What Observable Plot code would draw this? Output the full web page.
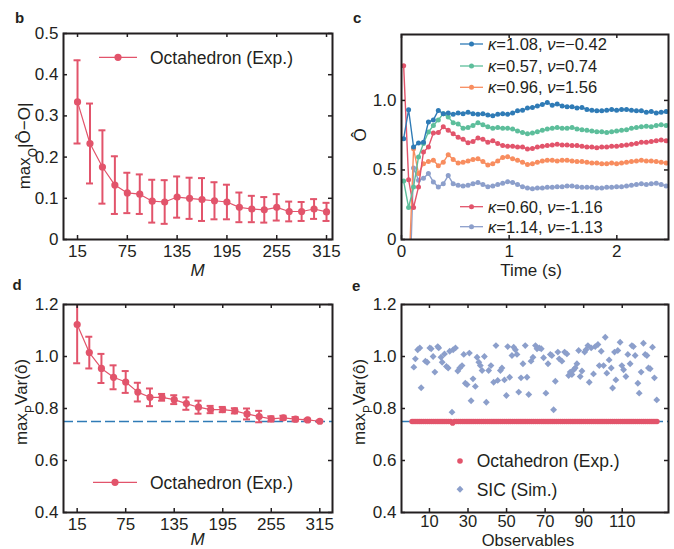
<!DOCTYPE html>
<html>
<head>
<meta charset="utf-8">
<script src="https://cdn.jsdelivr.net/npm/d3@7"></script>
<script src="https://cdn.jsdelivr.net/npm/@observablehq/plot@0.6"></script>
<style>
html,body{margin:0;padding:0;background:#fff;}
#fig{position:relative;width:674px;height:549px;overflow:hidden;background:#fff;}
#fig svg{position:absolute;overflow:visible;}
</style>
</head>
<body>
<div id="fig"></div>
<script>
// ---------- Panel b / d : versus number of measurements M ----------
const mVals = [15,30,45,60,75,90,105,120,135,150,165,180,195,210,225,240,255,270,285,300,315];
const devMean = [0.334,0.233,0.176,0.132,0.113,0.110,0.093,0.091,0.103,0.100,0.097,0.094,0.091,0.078,0.074,0.072,0.078,0.068,0.068,0.074,0.067];
const devErr  = [0.101,0.097,0.089,0.070,0.049,0.048,0.052,0.053,0.050,0.050,0.052,0.045,0.042,0.036,0.032,0.031,0.032,0.024,0.023,0.024,0.022];
const varMean = [1.123,1.015,0.954,0.920,0.902,0.863,0.843,0.843,0.834,0.819,0.805,0.796,0.796,0.791,0.779,0.769,0.760,0.764,0.759,0.756,0.751];
const varErr  = [0.149,0.061,0.056,0.046,0.042,0.036,0.034,0.013,0.017,0.024,0.025,0.014,0.010,0.010,0.021,0.022,0.010,0.008,0.008,0.004,0.003];
const mTicks = [15,75,135,195,255,315];
const devTicks = [0,0.1,0.2,0.3,0.4,0.5];
const varTicks = [0.4,0.6,0.8,1.0,1.2];
const boundVar = [0.75];

// ---------- Panel c : time series ----------
const timeS = [0.02,0.066,0.112,0.158,0.204,0.25,0.296,0.342,0.388,0.434,
  0.48,0.526,0.572,0.618,0.664,0.71,0.756,0.802,0.848,0.894,
  0.94,0.986,1.032,1.078,1.124,1.17,1.216,1.262,1.308,1.354,
  1.4,1.446,1.492,1.538,1.584,1.63,1.676,1.722,1.768,1.814,
  1.86,1.906,1.952,1.998,2.044,2.09,2.136,2.182,2.228,2.274,
  2.32,2.366,2.412,2.458];
const serK108 = [0.725,0.933,0.665,0.694,0.70,0.845,0.86,0.928,0.904,0.909,
  0.90,0.91,0.905,0.915,0.905,0.90,0.905,0.895,0.89,0.90,
  0.905,0.90,0.91,0.925,0.93,0.945,0.95,0.96,0.97,0.985,
  0.965,0.975,0.96,0.955,0.955,0.945,0.95,0.935,0.93,0.925,
  0.925,0.93,0.935,0.93,0.935,0.935,0.93,0.925,0.925,0.915,
  0.92,0.91,0.915,0.92];
const serK057 = [0.42,0.23,0.378,0.593,0.69,0.773,0.82,0.86,0.905,0.88,
  0.84,0.83,0.80,0.805,0.82,0.84,0.825,0.81,0.80,0.805,
  0.80,0.80,0.795,0.78,0.77,0.76,0.765,0.775,0.785,0.795,
  0.80,0.805,0.80,0.80,0.805,0.795,0.79,0.785,0.78,0.775,
  0.775,0.77,0.775,0.78,0.785,0.79,0.80,0.805,0.81,0.815,
  0.81,0.82,0.825,0.82];
const serK096 = [-1.2,-0.3,0.653,0.474,0.545,0.56,0.57,0.53,0.555,0.61,
  0.575,0.55,0.555,0.565,0.575,0.58,0.56,0.535,0.545,0.565,
  0.59,0.595,0.58,0.57,0.555,0.54,0.545,0.555,0.565,0.57,
  0.57,0.565,0.57,0.57,0.565,0.56,0.56,0.555,0.55,0.55,
  0.545,0.545,0.55,0.545,0.55,0.555,0.56,0.565,0.57,0.565,
  0.565,0.56,0.555,0.55];
const serK060 = [1.25,0.43,0.23,0.378,0.63,0.665,0.765,0.77,0.81,0.785,
  0.76,0.735,0.72,0.695,0.705,0.73,0.72,0.70,0.71,0.69,
  0.675,0.67,0.67,0.665,0.665,0.65,0.655,0.665,0.67,0.675,
  0.68,0.685,0.68,0.68,0.675,0.675,0.67,0.665,0.665,0.66,
  0.665,0.665,0.67,0.67,0.675,0.68,0.685,0.69,0.70,0.70,
  0.705,0.71,0.715,0.71];
const serK114 = [-1.5,-0.6,0.515,0.426,0.44,0.474,0.414,0.378,0.40,0.46,
  0.40,0.39,0.385,0.39,0.40,0.41,0.395,0.38,0.385,0.395,
  0.405,0.415,0.41,0.395,0.38,0.37,0.365,0.37,0.37,0.375,
  0.375,0.38,0.38,0.385,0.385,0.38,0.375,0.375,0.375,0.37,
  0.37,0.375,0.375,0.38,0.38,0.385,0.39,0.395,0.40,0.395,
  0.40,0.405,0.395,0.385];
const timeTicks = [0,1,2];
const estTicks = [0,0.5,1.0];

// ---------- Panel e : per observable ----------
const octaVals = [
  0.75,0.75,0.75,0.75,0.75,0.75,0.75,0.75,0.75,0.75,0.75,0.75,0.75,0.75,0.75,0.75,
  0.75,0.75,0.75,0.75,0.75,0.744,0.75,0.75,0.75,0.75,0.75,0.75,0.75,0.75,0.75,0.75,
  0.75,0.75,0.75,0.75,0.75,0.75,0.75,0.75,0.75,0.75,0.75,0.75,0.75,0.75,0.75,0.75,
  0.75,0.75,0.75,0.75,0.75,0.75,0.75,0.75,0.75,0.75,0.75,0.75,0.75,0.75,0.75,0.75,
  0.75,0.75,0.75,0.75,0.75,0.75,0.75,0.75,0.75,0.75,0.75,0.75,0.75,0.75,0.75,0.75,
  0.75,0.75,0.75,0.75,0.75,0.75,0.75,0.75,0.75,0.75,0.75,0.75,0.75,0.75,0.75,0.75,
  0.75,0.75,0.75,0.75,0.75,0.75,0.75,0.75,0.75,0.75,0.75,0.75,0.75,0.75,0.75,0.75,
  0.75,0.75,0.75,0.75,0.75,0.75,0.75,0.75,0.75,0.75,0.75,0.75,0.75,0.75,0.75,0.75];
const sicObs = [1.9,2.7,3.9,5.0,5.7,7.9,8.8,10.2,10.9,11.9,12.8,14.3,14.8,16.0,16.6,17.8,18.8,19.7,20.5,21.7,
  22.3,23.5,24.7,25.7,26.9,27.8,28.6,29.5,30.7,31.6,32.6,33.8,34.7,35.6,36.4,37.3,38.5,39.5,40.7,41.9,
  43.3,44.5,45.4,46.8,47.6,48.9,49.9,50.6,51.6,52.8,53.7,54.6,55.4,56.3,57.5,58.5,59.7,60.6,61.5,62.7,
  63.7,65.0,65.8,67.0,68.0,69.2,70.4,71.5,72.7,73.5,74.4,75.3,76.6,77.3,78.7,80.1,81.3,82.2,83.0,83.9,
  84.8,85.6,86.5,87.4,88.2,89.1,90.5,91.2,92.2,92.9,93.9,95.1,96.0,97.4,98.1,99.1,100.3,101.2,102.0,103.2,
  104.3,105.0,106.0,106.7,107.7,108.9,109.8,110.7,111.9,112.9,114.1,115.0,115.8,116.7,118.1,118.8,119.8,121.0,121.9,122.8,
  123.6,124.5,125.7,126.7,127.9];
const sicVals = [0.959,0.991,1.026,1.033,0.88,0.982,0.978,1.033,1.03,1.0,0.94,1.038,1.033,0.997,0.978,1.01,0.962,0.956,1.02,0.786,
  1.026,1.033,0.944,0.956,0.965,1.008,0.897,0.892,1.013,0.83,0.914,0.885,0.997,0.978,0.965,0.946,1.0,0.824,0.946,0.965,
  0.901,1.042,0.908,0.946,0.956,0.91,0.85,1.038,0.92,1.004,1.036,1.026,1.008,0.863,0.918,0.972,1.042,0.92,0.854,0.982,
  0.997,1.042,1.03,1.033,1.03,0.995,0.859,0.972,1.008,1.004,0.795,0.905,1.017,0.991,0.982,1.017,1.01,0.927,0.94,0.931,
  0.949,0.956,0.972,1.023,0.923,0.944,1.017,1.026,1.042,0.901,1.033,0.933,1.038,1.046,0.965,1.02,0.965,1.074,0.936,0.987,
  0.956,0.879,1.017,0.91,1.023,1.055,0.965,0.949,0.923,1.008,0.972,1.042,1.038,1.004,0.897,0.859,0.94,1.051,1.008,1.004,
  0.956,0.953,1.036,0.918,0.833];
const obsTicks = [10,30,50,70,90,110];

// ---------- styling ----------
const FONT = "'Liberation Sans', Arial, Helvetica, sans-serif";
const INK = "#231f20";
const RED = "#e2546b";
const BLUE = "#2f7bb6";
const GREEN = "#5dbe9b";
const ORANGE = "#f88d5f";
const LAV = "#8c9fcb";

function inTicks(xt, yt, xd, yd, len = 4) {
  const s = {stroke: INK, strokeWidth: 1.5};
  return [
    Plot.ruleX(xt, {x: d => d, y1: () => yd[0], y2: () => yd[0], insetBottom: len, ...s}),
    Plot.ruleX(xt, {x: d => d, y1: () => yd[1], y2: () => yd[1], insetTop: len, ...s}),
    Plot.ruleY(yt, {y: d => d, x1: () => xd[0], x2: () => xd[0], insetLeft: len, ...s}),
    Plot.ruleY(yt, {y: d => d, x1: () => xd[1], x2: () => xd[1], insetRight: len, ...s})
  ];
}

function panel(o) {
  const svg = Plot.plot({
    width: o.w, height: o.h,
    marginLeft: o.ml, marginRight: o.mr, marginTop: o.mt, marginBottom: o.mb,
    style: {fontFamily: FONT, fontSize: "17px", color: INK, background: "none", overflow: "visible"},
    x: {domain: o.xd},
    y: {domain: o.yd},
    marks: [
      ...o.marks,
      Plot.axisX(o.xt, {tickFormat: o.xf, tickSize: 0, tickPadding: o.xpad ?? 5, label: null, fill: INK, fontSize: o.xfs ?? 17}),
      Plot.axisY(o.yt, {tickFormat: o.yf, tickSize: 0, tickPadding: 5, label: null, fill: INK}),
      ...inTicks(o.xt, o.yt, o.xd, o.yd),
      Plot.frame({stroke: INK, strokeWidth: 2})
    ]
  });
  svg.style.left = o.left + "px";
  svg.style.top = o.top + "px";
  document.getElementById("fig").appendChild(svg);
  return d3.select(svg);
}

function letter(s, x, y, t) {
  s.append("text").attr("x", x).attr("y", y).attr("fill", INK).attr("text-anchor", "start")
    .style("font-size", "15px").style("font-weight", "bold").text(t);
}
function xTitle(s, x, y, t, italic, fs = 17) {
  s.append("text").attr("x", x).attr("y", y).attr("text-anchor", "middle").attr("fill", INK)
    .style("font-size", fs + "px").style("font-style", italic ? "italic" : "normal").text(t);
}
function yTitle(s, x, y, parts) {
  const t = s.append("text").attr("transform", `translate(${x},${y}) rotate(-90)`)
    .attr("text-anchor", "middle").attr("fill", INK).style("font-size", "17px");
  parts.forEach(p => {
    const sp = t.append("tspan").text(p.t);
    if (p.sub) sp.attr("baseline-shift", "sub").style("font-size", "12px");
  });
}
function legLineDot(s, x1, x2, y, color, r, tx, label, fs) {
  s.append("line").attr("x1", x1).attr("x2", x2).attr("y1", y).attr("y2", y)
    .attr("stroke", color).attr("stroke-width", 1.3);
  s.append("circle").attr("cx", (x1 + x2) / 2).attr("cy", y).attr("r", r).attr("fill", color);
  const t = s.append("text").attr("x", tx).attr("y", y).attr("dy", "0.36em").attr("fill", INK)
    .attr("text-anchor", "start").style("font-size", fs + "px");
  if (typeof label === "string") t.text(label);
  else label.forEach(p => { const sp = t.append("tspan").text(p.t); if (p.it) sp.style("font-style", "italic"); });
}

const fmt1 = d => d === 0 ? "0" : d.toFixed(1);

// ---------- b ----------
const dataB = mVals.map((m, i) => ({m, v: devMean[i], e: devErr[i]}));
const capB = {stroke: RED, strokeWidth: 2, insetLeft: -3.5, insetRight: -3.5, clip: true};
const sB = panel({
  left: 0, top: 0, w: 337, h: 280, ml: 63, mr: 5, mt: 33, mb: 41,
  xd: [-1.9, 322.2], yd: [0, 0.5], xt: mTicks, yt: devTicks, xf: d => String(d), yf: fmt1,
  marks: [
    Plot.line(dataB, {x: "m", y: "v", stroke: RED, strokeWidth: 1.2}),
    Plot.ruleX(dataB, {x: "m", y1: d => d.v - d.e, y2: d => d.v + d.e, stroke: RED, strokeWidth: 2, clip: true}),
    Plot.ruleY(dataB, {y: d => d.v + d.e, x1: "m", x2: "m", ...capB}),
    Plot.ruleY(dataB, {y: d => d.v - d.e, x1: "m", x2: "m", ...capB}),
    Plot.dot(dataB, {x: "m", y: "v", r: 3.6, fill: RED})
  ]
});
letter(sB, 15, 23, "b");
xTitle(sB, 197.5, 276, "M", true);
yTitle(sB, 30, 146, [{t: "max"}, {t: "O", sub: true}, {t: "|Ô−O|"}]);
legLineDot(sB, 99, 137, 57.3, RED, 3.6, 150, "Octahedron (Exp.)", 17.5);

// ---------- c ----------
const cSeries = [
  {vals: serK114, color: LAV},
  {vals: serK096, color: ORANGE},
  {vals: serK060, color: RED},
  {vals: serK057, color: GREEN},
  {vals: serK108, color: BLUE}
];
const cMarks = [];
cSeries.forEach(s => {
  const d = timeS.map((t, i) => ({t, v: s.vals[i]}));
  cMarks.push(Plot.line(d, {x: "t", y: "v", stroke: s.color, strokeWidth: 1.4, clip: true}));
  cMarks.push(Plot.dot(d, {x: "t", y: "v", r: 2.5, fill: s.color, clip: true}));
});
const sC = panel({
  left: 337, top: 0, w: 337, h: 280, ml: 64, mr: 6, mt: 34, mb: 41,
  xd: [0, 2.48], yd: [0, 1.474], xt: timeTicks, yt: estTicks, xf: d => String(d), yf: fmt1,
  marks: cMarks
});
letter(sC, 16, 23, "c");
xTitle(sC, 194, 276, "Time (s)", false);
yTitle(sC, 29, 135, [{t: "Ô"}]);
const cLeg = [
  {y: 44, c: BLUE, l: [{t: "κ", it: true}, {t: "=1.08, "}, {t: "ν", it: true}, {t: "=−0.42"}]},
  {y: 66, c: GREEN, l: [{t: "κ", it: true}, {t: "=0.57, "}, {t: "ν", it: true}, {t: "=0.74"}]},
  {y: 87.3, c: ORANGE, l: [{t: "κ", it: true}, {t: "=0.96, "}, {t: "ν", it: true}, {t: "=1.56"}]},
  {y: 206.7, c: RED, l: [{t: "κ", it: true}, {t: "=0.60, "}, {t: "ν", it: true}, {t: "=-1.16"}]},
  {y: 226.7, c: LAV, l: [{t: "κ", it: true}, {t: "=1.14, "}, {t: "ν", it: true}, {t: "=-1.13"}]}
];
cLeg.forEach(e => legLineDot(sC, 123, 146, e.y, e.c, 2.5, 151, e.l, 16.5));

// ---------- d ----------
const dataD = mVals.map((m, i) => ({m, v: varMean[i], e: varErr[i]}));
const sD = panel({
  left: 0, top: 280, w: 337, h: 269, ml: 63, mr: 5, mt: 24, mb: 37,
  xd: [-1.9, 330.7], yd: [0.4, 1.2], xt: mTicks, yt: varTicks, xf: d => String(d), yf: d => d.toFixed(1),
  marks: [
    Plot.ruleY(boundVar, {y: d => d, stroke: BLUE, strokeWidth: 1.7, strokeDasharray: "10,4"}),
    Plot.line(dataD, {x: "m", y: "v", stroke: RED, strokeWidth: 1.2}),
    Plot.ruleX(dataD, {x: "m", y1: d => d.v - d.e, y2: d => d.v + d.e, stroke: RED, strokeWidth: 2, clip: true}),
    Plot.ruleY(dataD, {y: d => d.v + d.e, x1: "m", x2: "m", ...capB}),
    Plot.ruleY(dataD, {y: d => d.v - d.e, x1: "m", x2: "m", ...capB}),
    Plot.dot(dataD, {x: "m", y: "v", r: 3.6, fill: RED})
  ]
});
letter(sD, 12.5, 10, "d");
xTitle(sD, 197.5, 265, "M", true);
yTitle(sD, 27, 122, [{t: "max"}, {t: "P", sub: true}, {t: "Var(ô)"}]);
legLineDot(sD, 93, 137, 202.3, RED, 3.6, 150, "Octahedron (Exp.)", 17.5);

// ---------- e ----------
const obsIdx = d3.range(1, octaVals.length + 1);
const octaData = obsIdx.map((o, i) => ({o, v: octaVals[i]}));
const sicData = sicObs.map((o, i) => ({o, v: sicVals[i]}));
const sE = panel({
  left: 337, top: 280, w: 337, h: 269, ml: 64, mr: 6, mt: 24, mb: 37,
  xd: [-4.5, 134], yd: [0.4, 1.2], xt: obsTicks, yt: varTicks, xf: d => String(d), yf: d => d.toFixed(1),
  xpad: 3, xfs: 16.5,
  marks: [
    Plot.ruleY(boundVar, {y: d => d, stroke: BLUE, strokeWidth: 1.7, strokeDasharray: "10,4"}),
    Plot.dot(sicData, {x: "o", y: "v", symbol: "diamond2", r: 3.1, fill: LAV}),
    Plot.dot(octaData, {x: "o", y: "v", r: 2.8, fill: RED})
  ]
});
letter(sE, 15, 11, "e");
xTitle(sE, 191, 265.5, "Observables", false, 16.5);
yTitle(sE, 28, 122, [{t: "max"}, {t: "P", sub: true}, {t: "Var(ô)"}]);
sE.append("circle").attr("cx", 123).attr("cy", 181).attr("r", 2.8).attr("fill", RED);
sE.append("text").attr("x", 139.7).attr("y", 181).attr("dy", "0.36em").attr("fill", INK).attr("text-anchor", "start")
  .style("font-size", "17.5px").text("Octahedron (Exp.)");
sE.append("path").attr("transform", "translate(123,209.3)")
  .attr("d", d3.symbol(d3.symbolDiamond2, Math.PI * 3.1 * 3.1)()).attr("fill", LAV);
sE.append("text").attr("x", 139.7).attr("y", 209.3).attr("dy", "0.36em").attr("fill", INK).attr("text-anchor", "start")
  .style("font-size", "17.5px").text("SIC (Sim.)");
</script>
</body>
</html>
